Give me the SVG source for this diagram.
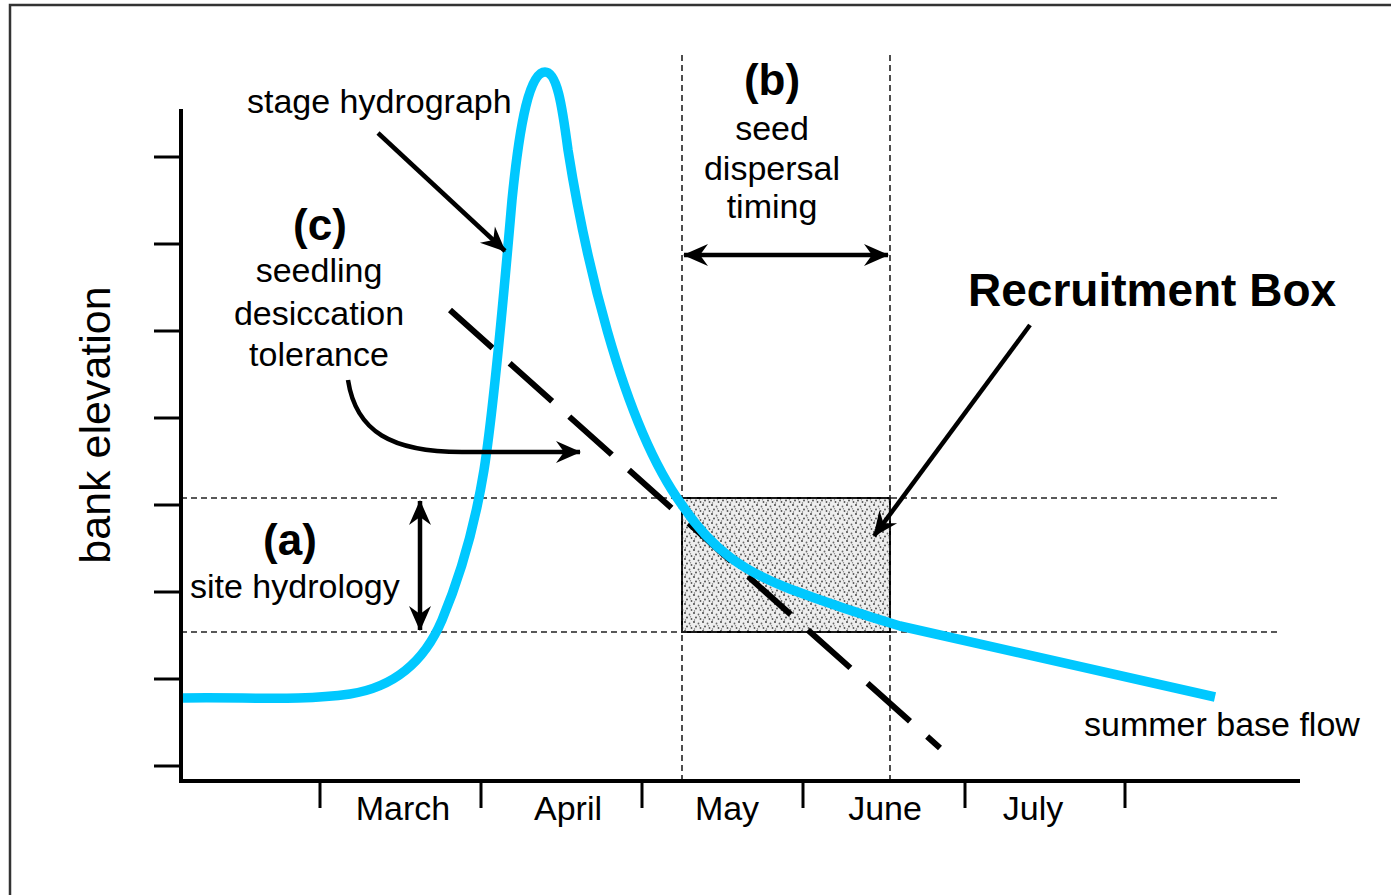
<svg xmlns="http://www.w3.org/2000/svg" width="1391" height="895" viewBox="0 0 1391 895">
<style>
.t{font-family:"Liberation Sans",Arial,sans-serif;font-size:34px;fill:#000}
.b{font-family:"Liberation Sans",Arial,sans-serif;font-weight:bold;fill:#000}
.axis{stroke:#000;stroke-width:4;fill:none}
.tick{stroke:#000;stroke-width:3;fill:none}
.guide{stroke:#222;stroke-width:1.6;stroke-dasharray:6 4;fill:none}
.arr{stroke:#000;stroke-width:4.5;fill:none}
</style>
<defs>
<marker id="ah" viewBox="-26 -12 28 24" markerUnits="userSpaceOnUse" markerWidth="28" markerHeight="24" refX="0" refY="0" orient="auto-start-reverse">
<path d="M1,0 L-24,-11 L-16,0 L-24,11 Z" fill="#000"/>
</marker>
<pattern id="stip" width="9" height="9" patternUnits="userSpaceOnUse">
<rect width="9" height="9" fill="#eeeeee"/>
<circle cx="1" cy="1" r="0.9" fill="#333"/>
<circle cx="5.5" cy="2.5" r="0.9" fill="#666"/>
<circle cx="3" cy="5.5" r="0.9" fill="#444"/>
<circle cx="7.5" cy="7" r="0.9" fill="#555"/>
<circle cx="6.5" cy="4.8" r="0.7" fill="#888"/>
<circle cx="1.5" cy="8" r="0.7" fill="#777"/>
</pattern>
</defs>
<rect x="0" y="0" width="1391" height="895" fill="#fff"/>
<rect x="10" y="5" width="1400" height="910" fill="none" stroke="#333" stroke-width="2.5"/>

<g id="recruitment-box-area">
<rect x="682" y="498" width="208" height="134" fill="url(#stip)" stroke="#000" stroke-width="2"/>
</g>

<g id="guides">
<line class="guide" x1="181" y1="498" x2="1280" y2="498"/>
<line class="guide" x1="181" y1="632" x2="1280" y2="632"/>
<line class="guide" x1="682" y1="55" x2="682" y2="781"/>
<line class="guide" x1="890" y1="55" x2="890" y2="781"/>
</g>

<g id="axes">
<line class="axis" x1="181" y1="109" x2="181" y2="783"/>
<line class="axis" x1="179" y1="781" x2="1300" y2="781"/>
<g class="tick">
<line x1="154" y1="157" x2="181" y2="157"/>
<line x1="154" y1="244" x2="181" y2="244"/>
<line x1="154" y1="331" x2="181" y2="331"/>
<line x1="154" y1="418" x2="181" y2="418"/>
<line x1="154" y1="505" x2="181" y2="505"/>
<line x1="154" y1="592" x2="181" y2="592"/>
<line x1="154" y1="679" x2="181" y2="679"/>
<line x1="154" y1="766" x2="181" y2="766"/>
<line x1="320" y1="781" x2="320" y2="808"/>
<line x1="481" y1="781" x2="481" y2="808"/>
<line x1="642" y1="781" x2="642" y2="808"/>
<line x1="803" y1="781" x2="803" y2="808"/>
<line x1="965" y1="781" x2="965" y2="808"/>
<line x1="1125" y1="781" x2="1125" y2="808"/>
</g>
<text class="t" x="403" y="820" text-anchor="middle">March</text>
<text class="t" x="568" y="820" text-anchor="middle">April</text>
<text class="t" x="727" y="820" text-anchor="middle">May</text>
<text class="t" x="885" y="820" text-anchor="middle">June</text>
<text class="t" x="1033" y="820" text-anchor="middle">July</text>
<text class="t" style="font-size:43px" transform="translate(110,425) rotate(-90)" text-anchor="middle">bank elevation</text>
</g>

<g id="tolerance-line">
<line x1="450" y1="310" x2="940" y2="748" stroke="#000" stroke-width="6" stroke-dasharray="57 23"/>
</g>

<g id="hydrograph">
<path d="M183,698 C250,697 300,701 350,694 C395,687 425,660 442,620 C462,572 475,525 484,470 C495,400 505,280 512,200 C520,120 530,72 545,72 C557,72 562,105 568,150 C583,245 620,420 682,505 C712,550 745,572 790,589 C830,604 860,614 900,626 L1215,697" fill="none" stroke="#00c8ff" stroke-width="9.5" stroke-linejoin="round"/>
</g>

<g id="connectors">
<line class="arr" x1="378" y1="133" x2="505" y2="251" marker-end="url(#ah)"/>
<path class="arr" d="M348,380 C356,432 392,452 462,452 L580,452" marker-end="url(#ah)"/>
<line class="arr" x1="1030" y1="325" x2="874" y2="536" marker-end="url(#ah)"/>
<line class="arr" x1="684" y1="255" x2="888" y2="255" marker-start="url(#ah)" marker-end="url(#ah)"/>
<line class="arr" x1="420" y1="501" x2="420" y2="630" marker-start="url(#ah)" marker-end="url(#ah)"/>
</g>

<g id="label-stage">
<text class="t" x="247" y="113">stage hydrograph</text>
</g>
<g id="label-b">
<text class="b" x="772" y="95" text-anchor="middle" style="font-size:44px">(b)</text>
<text class="t" x="772" y="140" text-anchor="middle">seed</text>
<text class="t" x="772" y="180" text-anchor="middle">dispersal</text>
<text class="t" x="772" y="218" text-anchor="middle">timing</text>
</g>
<g id="label-c">
<text class="b" x="320" y="240" text-anchor="middle" style="font-size:44px">(c)</text>
<text class="t" x="319" y="282" text-anchor="middle">seedling</text>
<text class="t" x="319" y="325" text-anchor="middle">desiccation</text>
<text class="t" x="319" y="366" text-anchor="middle">tolerance</text>
</g>
<g id="label-recruitment">
<text class="b" x="968" y="306" style="font-size:46px">Recruitment Box</text>
</g>
<g id="label-a">
<text class="b" x="290" y="555" text-anchor="middle" style="font-size:44px">(a)</text>
<text class="t" x="190" y="598">site hydrology</text>
</g>
<g id="label-summer">
<text class="t" x="1084" y="736">summer base flow</text>
</g>
</svg>
